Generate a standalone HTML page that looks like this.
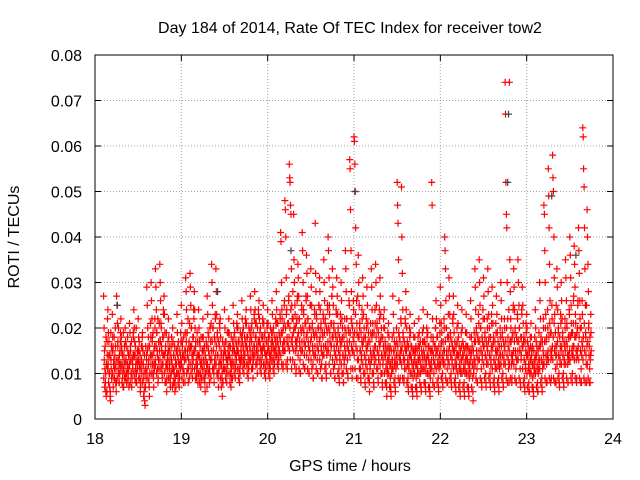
<!DOCTYPE html>
<html><head><meta charset="utf-8"><style>
body{margin:0;background:#fff;}
svg{display:block;font-family:"Liberation Sans",Arial,sans-serif;}
</style></head><body>
<svg id="chart" width="640" height="480">
<rect width="640" height="480" fill="#fff"/>
<text x="350" y="33" font-size="16" text-anchor="middle">Day 184 of 2014, Rate Of TEC Index for receiver tow2</text>
<text x="350" y="471" font-size="16" text-anchor="middle">GPS time / hours</text>
<text transform="translate(19,237) rotate(-90)" font-size="16" text-anchor="middle">ROTI / TECUs</text>
<g id="grid"></g><g id="ticks"></g><g id="marks"></g>
<rect x="95" y="55" width="518" height="364" fill="none" stroke="#000" stroke-width="1"/>
</svg>
<script>
const xTicks=[18,19,20,21,22,23,24];
const yTicks=[0,0.01,0.02,0.03,0.04,0.05,0.06,0.07,0.08];
const yTickLabels=["0","0.01","0.02","0.03","0.04","0.05","0.06","0.07","0.08"];
const binTimes=[18.10,18.15,18.20,18.25,18.30,18.35,18.40,18.45,18.50,18.55,18.60,18.65,18.70,18.75,18.80,18.85,18.90,18.95,19.00,19.05,19.10,19.15,19.20,19.25,19.30,19.35,19.40,19.45,19.50,19.55,19.60,19.65,19.70,19.75,19.80,19.85,19.90,19.95,20.00,20.05,20.10,20.15,20.20,20.25,20.30,20.35,20.40,20.45,20.50,20.55,20.60,20.65,20.70,20.75,20.80,20.85,20.90,20.95,21.00,21.05,21.10,21.15,21.20,21.25,21.30,21.35,21.40,21.45,21.50,21.55,21.60,21.65,21.70,21.75,21.80,21.85,21.90,21.95,22.00,22.05,22.10,22.15,22.20,22.25,22.30,22.35,22.40,22.45,22.50,22.55,22.60,22.65,22.70,22.75,22.80,22.85,22.90,22.95,23.00,23.05,23.10,23.15,23.20,23.25,23.30,23.35,23.40,23.45,23.50,23.55,23.60,23.65,23.70];
// ROTI values in units of 0.001 TECU/min
const rotiBins=[
[27,20,15,11,8,6,5,12,17,22],[24,19,14,10,7,5,4,13,16,9],[23,18,16,12,9,11,14,20,8,6],[27,25,21,17,13,10,8,12,15,19],[22,18,15,12,9,7,11,14,16,10],
[20,17,13,10,8,12,15,9,11,14],[21,19,16,13,10,7,9,12,14,18],[24,20,17,14,11,8,10,13,15,12],[22,18,15,12,9,6,8,11,13,16],[19,15,12,9,6,4,3,7,10,14],
[29,25,20,16,12,8,5,10,14,18],[30,26,22,18,14,10,7,12,16,20],[33,29,24,19,15,11,8,13,17,21],[34,30,26,21,16,12,9,14,18,23],[27,23,19,15,11,8,6,12,14,17],
[22,18,15,12,9,7,10,13,16,11],[20,17,14,11,8,6,9,12,15,10],[23,19,16,13,10,7,9,12,14,17],[25,21,17,14,11,8,10,13,15,19],[31,28,24,19,15,11,8,13,17,21],
[32,29,25,20,16,12,9,14,18,22],[28,24,20,16,12,9,11,14,17,10],[24,20,17,13,10,7,9,12,15,18],[22,18,15,12,9,6,10,13,16,11],[27,23,19,15,11,8,10,13,17,21],
[34,30,25,20,15,11,8,13,17,22],[33,28,23,18,14,10,7,12,16,20],[22,18,15,12,9,5,8,11,14,16],[24,20,17,14,11,8,10,13,15,19],[22,19,16,13,10,7,9,12,15,17],
[25,21,18,15,12,9,11,14,16,20],[23,20,17,14,11,8,10,13,15,18],[26,22,19,16,13,10,12,14,17,21],[24,21,18,15,12,9,11,13,16,19],[27,24,20,17,14,11,9,13,16,22],
[28,24,21,18,15,12,10,14,17,23],[26,22,19,16,13,10,12,15,18,21],[25,21,18,15,12,9,11,14,17,20],[24,21,18,15,12,9,11,14,16,19],[26,23,19,16,13,10,12,15,17,21],
[28,24,21,17,14,11,13,15,18,22],[41,39,30,24,19,15,12,17,21,26],[48,46,40,31,24,18,13,16,21,27],[56,53,52,47,45,33,25,18,13,22],[45,35,30,25,20,15,11,17,22,27],
[34,31,27,22,17,13,10,15,19,24],[41,37,30,24,19,14,11,16,21,26],[36,32,27,22,17,13,10,15,20,25],[33,29,25,20,16,12,9,14,18,23],[43,32,28,23,18,13,10,15,20,25],
[31,28,24,20,16,12,9,14,18,22],[35,30,26,21,16,12,9,14,19,24],[40,37,31,25,19,14,10,16,21,27],[33,29,25,20,16,12,9,14,18,23],[31,27,23,19,15,11,8,13,17,21],
[30,26,22,18,14,10,8,12,16,20],[37,33,28,22,17,13,9,15,19,25],[57,55,46,37,28,21,15,11,18,24],[62,61,56,50,42,34,26,19,13,9],[36,30,25,20,15,11,8,13,17,22],
[31,27,23,18,14,10,7,12,16,20],[29,25,21,17,13,9,6,11,15,19],[33,29,24,19,14,10,7,12,16,21],[34,30,25,20,15,11,8,13,17,22],[31,27,23,18,14,10,7,12,16,20],
[24,20,17,14,11,8,5,10,13,16],[21,18,15,12,9,7,5,10,13,11],[27,23,19,15,12,9,6,11,14,17],[52,47,43,35,26,18,13,9,15,21],[51,40,32,24,18,13,9,11,16,21],
[28,24,20,16,12,9,6,11,14,18],[23,19,16,13,10,7,5,9,12,15],[21,18,15,12,9,7,5,10,13,16],[22,19,16,13,10,7,6,11,14,17],[24,20,17,14,11,8,6,10,13,18],
[23,19,16,13,10,7,5,9,12,15],[52,47,22,18,14,10,7,12,16,20],[26,22,18,15,12,9,6,11,14,19],[29,25,21,17,13,10,7,12,15,20],[40,37,33,26,20,15,11,8,13,18],
[31,27,23,18,14,10,7,12,16,21],[27,23,19,15,12,9,6,11,14,17],[25,21,18,14,11,8,5,10,13,16],[24,20,17,14,11,8,5,10,13,16],[23,19,16,13,10,7,5,9,12,15],
[26,22,18,15,12,9,4,10,13,17],[33,29,24,19,15,11,8,13,17,21],[35,30,25,20,15,11,7,13,17,22],[31,27,22,18,14,10,7,12,16,20],[33,28,23,18,14,10,7,12,16,21],
[29,25,21,17,13,9,6,11,15,19],[27,23,19,15,12,9,6,11,14,18],[30,26,22,18,14,10,7,12,16,20],[74,67,52,45,42,30,22,16,11,8],[74,35,28,22,17,12,9,14,19,25],
[33,29,24,19,15,11,8,13,17,22],[35,30,25,20,15,11,7,13,18,23],[29,25,21,17,13,9,6,11,15,19],[23,20,17,14,11,8,6,10,13,16],[21,18,15,12,9,7,5,10,13,11],
[24,20,17,14,11,8,6,10,13,16],[30,26,22,17,13,9,6,11,15,20],[47,45,37,30,23,17,12,8,14,20],[55,49,42,34,26,19,13,9,15,22],[58,53,50,40,31,23,16,11,8,14],
[33,29,24,19,14,10,7,12,16,21],[30,26,22,18,14,10,7,12,16,20],[35,31,26,21,16,12,8,14,18,23],[40,36,31,25,19,14,10,16,21,27],[38,34,29,23,18,13,9,15,20,26],
[42,37,32,26,20,15,11,8,17,23],[64,62,55,51,42,33,25,18,12,8],[46,40,34,28,21,16,11,8,14,19]
];
// second receiver-satellite group, same units, fills the dense core band
const rotiBins2=[
[9,13,7,16,10,18,12,6,14,11],[12,8,17,10,14,6,19,11,9,15],[10,15,7,13,18,9,12,16,11,8],[13,9,16,11,20,8,14,10,17,12],[11,16,8,14,10,19,7,13,9,12],
[9,13,16,8,11,18,10,14,7,12],[12,8,15,10,17,9,13,11,19,14],[10,14,9,16,12,20,8,13,11,15],[13,9,17,11,14,7,12,16,10,18],[8,12,5,10,14,7,11,16,9,13],
[11,15,9,18,13,7,16,10,21,12],[14,10,17,12,19,9,15,11,22,13],[12,16,10,19,14,22,9,17,11,15],[13,17,11,20,15,10,18,12,24,14],[10,14,8,16,12,19,9,13,11,15],
[9,13,11,16,8,14,10,18,12,7],[11,8,14,10,16,9,13,7,12,15],[10,14,8,17,12,9,15,11,19,13],[12,9,16,11,14,18,10,13,8,15],[13,17,10,19,14,22,11,16,9,15],
[12,16,10,20,14,11,18,13,24,15],[11,15,9,17,13,10,19,12,8,14],[10,14,8,16,12,18,9,13,11,15],[9,13,11,16,8,14,10,17,12,7],[12,16,10,18,14,11,20,13,9,15],
[13,17,11,20,15,10,18,12,23,14],[12,16,10,19,14,9,17,11,21,13],[9,12,7,14,10,17,8,13,11,15],[11,15,9,17,13,10,19,12,16,14],[10,14,8,16,12,18,11,13,9,15],
[12,16,10,19,14,11,17,13,21,15],[11,15,9,17,13,10,19,12,16,14],[13,17,11,20,15,12,18,14,22,16],[12,16,10,18,14,11,20,13,17,15],[13,18,11,21,15,12,19,14,23,16],
[14,18,12,21,16,13,20,15,24,17],[13,17,11,20,15,12,18,14,22,16],[12,16,10,19,14,11,17,13,21,15],[12,16,10,18,14,11,20,13,17,15],[13,17,11,20,15,12,18,14,22,16],
[14,18,12,21,16,13,19,15,23,17],[14,19,12,22,16,11,20,15,25,17],[15,20,12,23,17,11,21,16,26,18],[15,20,13,24,17,11,22,16,28,19],[15,20,12,23,17,10,21,16,26,18],
[14,19,11,22,16,10,20,15,25,17],[15,20,12,23,17,11,21,16,27,18],[14,19,11,22,16,10,20,15,25,17],[13,18,11,21,15,9,19,14,24,16],[14,19,11,22,16,10,20,15,25,17],
[13,18,11,21,15,9,19,14,23,16],[14,19,11,22,16,10,20,15,25,17],[15,20,12,23,17,10,21,16,27,18],[13,18,11,21,15,9,19,14,24,16],[13,17,10,20,15,9,18,14,23,16],
[12,17,10,20,14,8,18,13,22,15],[14,19,11,22,16,10,20,15,26,17],[14,19,11,22,16,9,20,15,26,17],[14,19,11,23,16,9,21,15,27,18],[13,18,11,21,15,9,19,14,24,16],
[12,17,10,20,14,8,18,13,22,15],[11,16,9,19,13,8,17,12,21,14],[13,18,10,21,15,8,19,14,24,16],[13,18,11,21,15,9,19,14,24,16],[12,17,10,20,14,8,18,13,22,15],
[10,14,8,16,12,7,15,11,19,13],[10,14,7,16,12,6,15,11,18,13],[11,15,8,17,13,7,16,12,20,14],[12,16,9,19,14,8,17,13,22,15],[12,16,9,19,14,8,17,13,22,15],
[11,15,8,17,13,7,16,12,20,14],[10,14,7,16,12,6,15,11,18,13],[10,14,7,16,12,6,15,11,18,13],[10,14,8,17,12,7,15,11,19,13],[11,15,8,17,13,7,16,12,20,14],
[10,14,7,16,12,6,15,11,18,13],[11,15,8,17,13,7,16,12,20,14],[11,15,8,18,13,7,16,12,21,14],[12,16,9,19,14,8,17,13,22,15],[12,17,9,20,14,8,18,13,23,15],
[12,16,9,19,14,8,17,13,22,15],[11,15,8,17,13,7,16,12,20,14],[10,14,7,16,12,6,15,11,19,13],[10,14,7,16,12,6,15,11,19,13],[10,14,7,16,12,6,15,11,18,13],
[10,14,7,16,12,6,15,11,19,13],[12,17,9,20,14,8,18,13,23,15],[13,17,9,20,15,8,18,14,24,16],[12,16,9,19,14,8,17,13,22,15],[12,17,9,20,14,8,18,13,23,15],
[11,16,8,18,13,7,17,12,21,14],[11,15,8,17,13,7,16,12,20,14],[12,16,9,19,14,8,17,13,22,15],[12,17,9,20,14,8,18,13,24,15],[12,17,9,20,14,8,18,13,24,15],
[12,17,9,20,14,8,18,13,23,15],[13,17,9,20,15,8,18,14,24,16],[11,16,8,18,13,7,17,12,21,14],[10,14,7,16,12,6,15,11,18,13],[10,14,7,16,12,6,15,11,18,13],
[10,14,7,16,12,6,15,11,19,13],[11,16,8,18,13,7,17,12,22,14],[12,17,9,20,14,8,18,13,24,15],[13,18,9,21,15,8,19,14,25,16],[13,18,9,21,15,8,19,14,25,16],
[12,17,9,20,14,8,18,13,23,15],[12,16,9,19,14,8,17,13,22,15],[12,17,9,20,14,8,18,13,24,15],[13,18,9,21,15,8,19,14,26,16],[13,18,9,21,15,8,19,14,25,16],
[13,18,9,22,15,8,20,14,26,16],[13,18,9,21,15,8,19,14,25,16],[12,17,9,20,14,8,18,13,23,15]
];
const grayTimes=[18.26,19.42,20.27,21.01,22.78,22.79,23.29,23.57];
const grayRoti=[0.025,0.028,0.037,0.050,0.052,0.067,0.049,0.036];

const NS="http://www.w3.org/2000/svg";
const X0=95,X1=613,Y0=419,Y1=55;
const xs=t=>X0+(t-18)/(24-18)*(X1-X0);
const ys=v=>Y0-(v/0.08)*(Y0-Y1);
const grid=document.getElementById('grid'),ticks=document.getElementById('ticks'),marks=document.getElementById('marks');
function mk(tag,attrs,parent){const e=document.createElementNS(NS,tag);for(const k in attrs)e.setAttribute(k,attrs[k]);parent.appendChild(e);return e;}
xTicks.forEach((t,i)=>{
  const x=xs(t);
  if(i>0&&i<xTicks.length-1){const g=mk('line',{x1:x,x2:x,y1:Y1,y2:Y0,stroke:'#a0a0a0','stroke-dasharray':'1,2'},grid);
  
  }
  mk('line',{x1:x,x2:x,y1:Y0,y2:Y0-6,stroke:'#000'},ticks);
  mk('line',{x1:x,x2:x,y1:Y1,y2:Y1+6,stroke:'#000'},ticks);
  const l=mk('text',{x:x,y:Y0+25,'font-size':16,'text-anchor':'middle'},ticks);l.textContent=t;
  
  
});
yTicks.forEach((v,i)=>{
  const y=ys(v);
  if(i>0&&i<yTicks.length-1){const g=mk('line',{x1:X0,x2:X1,y1:y,y2:y,stroke:'#a0a0a0','stroke-dasharray':'1,2'},grid);
  
  }
  mk('line',{x1:X0,x2:X0+6,y1:y,y2:y,stroke:'#000'},ticks);
  mk('line',{x1:X1,x2:X1-6,y1:y,y2:y,stroke:'#000'},ticks);
  const l=mk('text',{x:X0-13,y:y+6,'font-size':16,'text-anchor':'end'},ticks);l.textContent=yTickLabels[i];
  
  
});
function plus(x,y,c){
  return mk('path',{d:`M${(x-3.5).toFixed(1)},${y.toFixed(1)}h7M${x.toFixed(1)},${(y-3.5).toFixed(1)}v7`,stroke:c,'stroke-width':1.2,fill:'none'},marks);
}
function drawBins(bins,offset){
  binTimes.forEach((t,i)=>{
    const vals=bins[i];
    vals.forEach((v,j)=>{
      const p=plus(xs(t+(j+offset)*0.05/vals.length),ys(v/1000),'#ff0000');
      
      
    });
  });
}
drawBins(rotiBins,0);
drawBins(rotiBins2,0.5);
grayTimes.forEach((t,i)=>{
  const p=plus(xs(t),ys(grayRoti[i]),'#404040');
  
  
});
</script>
</body></html>
